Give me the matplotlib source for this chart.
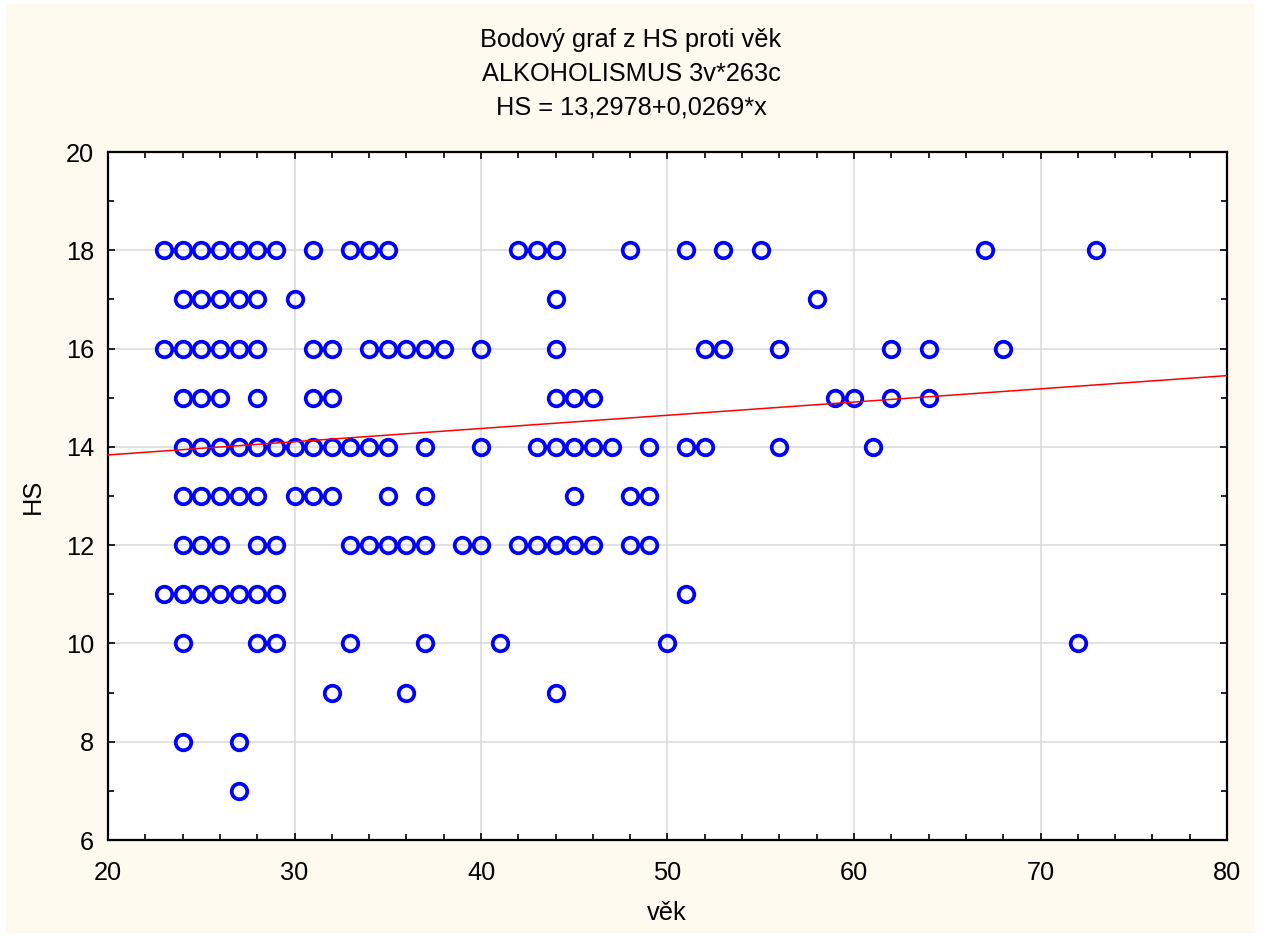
import matplotlib
matplotlib.use("Agg")
import matplotlib.pyplot as plt
from matplotlib.patches import Rectangle
from matplotlib.ticker import MultipleLocator
import numpy as np

plt.rcParams['font.family'] = ['Liberation Sans', 'DejaVu Sans']

# ages (věk), grouped by HS value
hs_levels = [18, 17, 16, 15, 14, 13, 12, 11, 10, 9, 8, 7]
ages_18 = [23, 24, 25, 26, 27, 28, 29, 31, 33, 34, 35, 42, 43, 44, 48, 51, 53, 55, 67, 73]
ages_17 = [24, 25, 26, 27, 28, 30, 44, 58]
ages_16 = [23, 24, 25, 26, 27, 28, 31, 32, 34, 35, 36, 37, 38, 40, 44, 52, 53, 56, 62, 64, 68]
ages_15 = [24, 25, 26, 28, 31, 32, 44, 45, 46, 59, 60, 62, 64]
ages_14 = [24, 25, 26, 27, 28, 29, 30, 31, 32, 33, 34, 35, 37, 40, 43, 44, 45, 46, 47, 49,
           51, 52, 56, 61]
ages_13 = [24, 25, 26, 27, 28, 30, 31, 32, 35, 37, 45, 48, 49]
ages_12 = [24, 25, 26, 28, 29, 33, 34, 35, 36, 37, 39, 40, 42, 43, 44, 45, 46, 48, 49]
ages_11 = [23, 24, 25, 26, 27, 28, 29, 51]
ages_10 = [24, 28, 29, 33, 37, 41, 50, 72]
ages_9 = [32, 36, 44]
ages_8 = [24, 27]
ages_7 = [27]
ages_by_level = [ages_18, ages_17, ages_16, ages_15, ages_14, ages_13,
                 ages_12, ages_11, ages_10, ages_9, ages_8, ages_7]

# regression from the title: HS = 13,2978 + 0,0269*x
intercept = 13.2978
slope = 0.0269

vek = np.concatenate([np.array(a, dtype=float) for a in ages_by_level])
hs = np.concatenate([np.full(len(a), lvl, dtype=float) for a, lvl in zip(ages_by_level, hs_levels)])

W, H = 1261, 935
FS = 18.3
fig = plt.figure(figsize=(W / 100, H / 100), dpi=100)
fig.patch.set_facecolor('white')
fig.add_artist(Rectangle((6 / W, 2 / H), (1255 - 6) / W, (931 - 2) / H,
                         transform=fig.transFigure, facecolor='#FFFAF0',
                         edgecolor='none', zorder=-10))

ax = fig.add_axes([108 / W, 1 - 840 / H, (1227 - 108) / W, (840 - 152) / H])
ax.set_facecolor('white')

ax.grid(True, which='major', color='#D9D9D9', linewidth=1.1, zorder=0)
ax.set_axisbelow(True)

ax.plot(vek, hs, linestyle='none', marker='o', markersize=11.2,
        markerfacecolor='none', markeredgecolor='#0000FF', markeredgewidth=2.7, zorder=2)

x_line = np.array([20.0, 80.0])
ax.plot(x_line, intercept + slope * x_line, color='#FF0000', linewidth=1.1, zorder=3)

ax.set_xlim(20, 80)
ax.set_ylim(6, 20)
ax.xaxis.set_major_locator(MultipleLocator(10))
ax.xaxis.set_minor_locator(MultipleLocator(2))
ax.yaxis.set_major_locator(MultipleLocator(2))
ax.yaxis.set_minor_locator(MultipleLocator(1))

ax.tick_params(which='both', direction='in', top=True, right=True, colors='black',
               labelsize=FS, width=1.2)
ax.tick_params(which='major', length=5)
ax.tick_params(which='minor', length=4)
ax.tick_params(axis='x', pad=15)
ax.tick_params(axis='y', pad=10)

for s in ax.spines.values():
    s.set_color('black')
    s.set_linewidth(1.6)

title_lines = ['Bodový graf z HS proti věk', 'ALKOHOLISMUS 3v*263c', 'HS = 13,2978+0,0269*x']
for i, t in enumerate(title_lines):
    fig.text(631 / W, 1 - (40 + 34 * i) / H, t, ha='center', va='center', fontsize=FS)

fig.text(667 / W, 1 - 913 / H, 'věk', ha='center', va='center', fontsize=FS)
fig.text(33 / W, 1 - 496 / H, 'HS', ha='center', va='center', rotation=90, fontsize=FS)

fig.savefig('out.png', dpi=100, facecolor=fig.get_facecolor())
